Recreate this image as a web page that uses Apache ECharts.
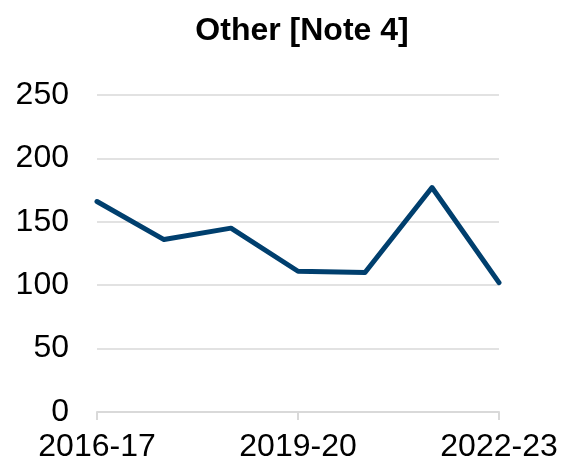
<!DOCTYPE html>
<html><head><meta charset="utf-8">
<script src="https://cdn.jsdelivr.net/npm/echarts@6/dist/echarts.min.js"></script>
<style>html,body{margin:0;padding:0;background:#fff}#c{width:562px;height:464px}</style>
</head><body><div id="c"></div>
<script>
const categories = ["2016-17","2017-18","2018-19","2019-20","2020-21","2021-22","2022-23"];
const values = [166, 136, 145, 111, 110, 177, 102];
const titleText = "Other [Note 4]";
const chart = echarts.init(document.getElementById('c'), null, {renderer:'canvas'});
chart.setOption({
  animation:false,
  backgroundColor:'#fff',
  title:{text:titleText,left:297,top:10,textAlign:'center',textStyle:{fontFamily:'Liberation Sans, Arial',fontSize:32,fontWeight:'bold',color:'#000'}},
  grid:{left:97,right:63,top:95,bottom:52,containLabel:false},
  xAxis:{type:'category',data:categories,boundaryGap:false,
    axisLine:{lineStyle:{color:'#d9d9d9',width:2}},
    axisTick:{show:true,interval:2,length:8,lineStyle:{color:'#d9d9d9',width:2}},
    axisLabel:{interval:2,margin:19,fontFamily:'Liberation Sans, Arial',fontSize:32,color:'#000'},
    splitLine:{show:false}},
  yAxis:{type:'value',min:0,max:250,interval:50,
    axisLine:{show:false},axisTick:{show:false},
    axisLabel:{margin:28,fontFamily:'Liberation Sans, Arial',fontSize:32,color:'#000'},
    splitLine:{lineStyle:{color:'#d9d9d9',width:1.5}}},
  series:[{type:'line',data:values,symbol:'none',lineStyle:{color:'#003f6e',width:5,cap:'round',join:'round'}}]
});
</script></body></html>
